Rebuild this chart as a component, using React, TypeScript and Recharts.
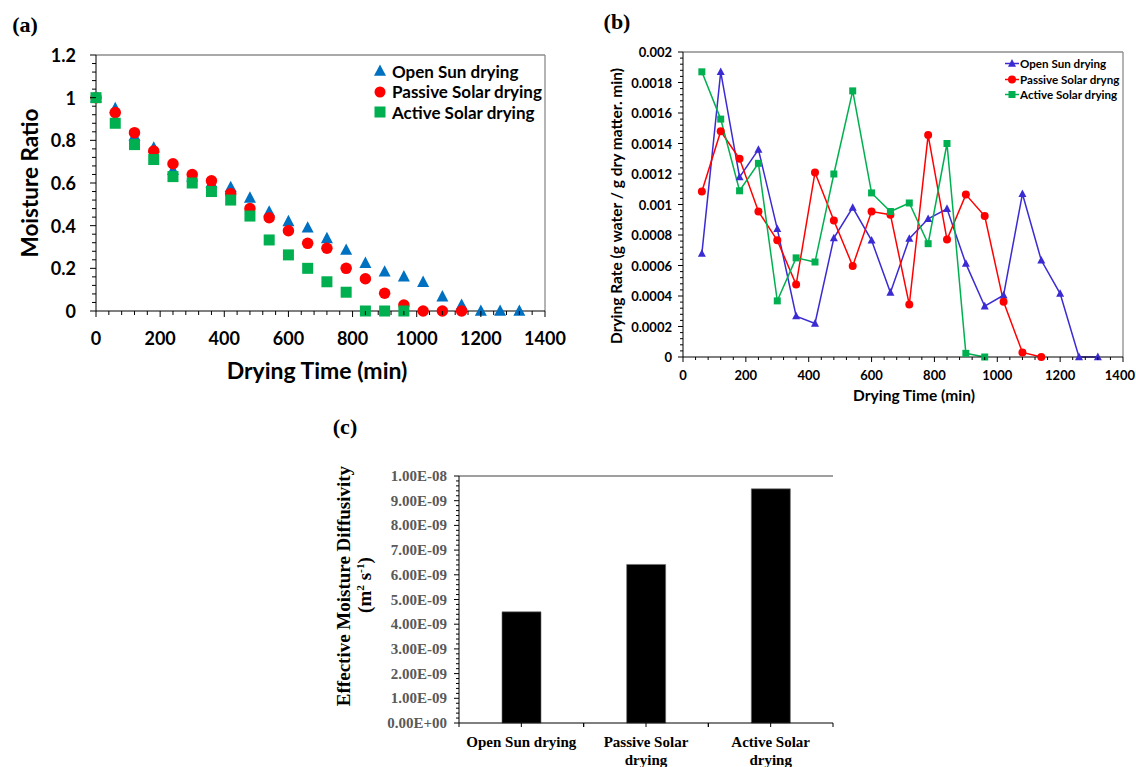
import React from 'react';
import { ScatterChart, Scatter, LineChart, Line, BarChart, Bar, XAxis, YAxis, ReferenceLine } from 'recharts';

const SANS = "Lato, 'Open Sans', sans-serif";
const SERIF = "'Liberation Serif', 'Times New Roman', serif";

const BLUE_A = '#0070C0';
const BLUE_B = '#3B2BD3';
const RED = '#FF0000';
const GREEN = '#00B050';
const FRAME = '#8c8c8c';

// (a) moisture ratio vs drying time
const timeA = [0, 60, 120, 180, 240, 300, 360, 420, 480, 540, 600, 660, 720, 780, 840, 900, 960, 1020, 1080, 1140, 1200, 1260, 1320];
const mrOpen = [1, 0.95, 0.82, 0.765, 0.66, 0.63, 0.6, 0.58, 0.53, 0.465, 0.42, 0.39, 0.34, 0.286, 0.224, 0.184, 0.161, 0.135, 0.067, 0.028, 0, 0, 0];
const mrPassive = [1, 0.93, 0.836, 0.75, 0.69, 0.64, 0.61, 0.55, 0.48, 0.437, 0.376, 0.317, 0.294, 0.2, 0.151, 0.083, 0.028, 0, 0, 0];
const mrActive = [1, 0.88, 0.78, 0.71, 0.63, 0.6, 0.56, 0.52, 0.445, 0.333, 0.263, 0.2, 0.137, 0.088, 0, 0, 0];

// (b) drying rate vs drying time
const timeB = [60, 120, 180, 240, 300, 360, 420, 480, 540, 600, 660, 720, 780, 840, 900, 960, 1020, 1080, 1140, 1200, 1260, 1320];
const drOpen = [0.000678, 0.00187, 0.00118, 0.00136, 0.00084, 0.000268, 0.00022, 0.00078, 0.00098, 0.000765, 0.000423, 0.000776, 0.000906, 0.000972, 0.000612, 0.000333, 0.000405, 0.00107, 0.000634, 0.000416, 0, 0];
const drPassive = [0.001085, 0.00148, 0.0013, 0.000954, 0.000765, 0.000475, 0.00121, 0.000895, 0.000597, 0.000954, 0.000933, 0.000344, 0.001455, 0.00077, 0.001065, 0.000924, 0.000362, 0.00003, 0];
const drActive = [0.00187, 0.00156, 0.00109, 0.00127, 0.000368, 0.00065, 0.000623, 0.0012, 0.001745, 0.001076, 0.000954, 0.00101, 0.000743, 0.0014, 0.000024, 0];

// (c) effective moisture diffusivity
const dryers = ['Open Sun drying', 'Passive Solar drying', 'Active Solar drying'];
const dryerLines = [['Open Sun drying'], ['Passive Solar', 'drying'], ['Active Solar', 'drying']];
const diffusivity = [4.5e-9, 6.42e-9, 9.48e-9];

// tick labels
const xTicksTime = [0, 200, 400, 600, 800, 1000, 1200, 1400];
const xLabelsTime = ['0', '200', '400', '600', '800', '1000', '1200', '1400'];
const yTicksA = [0, 0.2, 0.4, 0.6, 0.8, 1, 1.2];
const yLabelsA = ['0', '0.2', '0.4', '0.6', '0.8', '1', '1.2'];
const yTicksB = [0, 0.0002, 0.0004, 0.0006, 0.0008, 0.001, 0.0012, 0.0014, 0.0016, 0.0018, 0.002];
const yLabelsB = ['0', '0.0002', '0.0004', '0.0006', '0.0008', '0.001', '0.0012', '0.0014', '0.0016', '0.0018', '0.002'];
const yTicksC = [0, 1e-9, 2e-9, 3e-9, 4e-9, 5e-9, 6e-9, 7e-9, 8e-9, 9e-9, 1e-8];
const yLabelsC = ['0.00E+00', '1.00E-09', '2.00E-09', '3.00E-09', '4.00E-09', '5.00E-09', '6.00E-09', '7.00E-09', '8.00E-09', '9.00E-09', '1.00E-08'];

// minor tick positions (majors included)
const steps = (max: number, n: number) =>
  Array.from({ length: n + 1 }, (_, i) => Number(((max * i) / n).toPrecision(12)));

const pairs = (xs: number[], ys: number[]) => ys.map((y, i) => ({ x: xs[i], y }));
const openA = pairs(timeA, mrOpen);
const passiveA = pairs(timeA, mrPassive);
const activeA = pairs(timeA, mrActive);

const tableB = timeB.map((t, i) => ({
  t,
  open: drOpen[i] ?? null,
  passive: drPassive[i] ?? null,
  active: drActive[i] ?? null,
}));

const tableC = dryers.map((name, i) => ({ name, d: diffusivity[i] }));

type TickOpts = {
  majors: number[];
  labels: string[];
  major: number;
  minor: number;
  gap: number;
  size: number;
  font: string;
  color?: string;
  lastEnd?: number;
};

const findMajor = (majors: number[], v: number) => {
  const tol = majors[majors.length - 1] * 1e-6;
  return majors.findIndex((m) => Math.abs(m - v) < tol);
};

const xTick = (o: TickOpts) => (props: any) => {
  const { x, y, payload } = props;
  const i = findMajor(o.majors, payload.value);
  const isLast = i === o.majors.length - 1 && o.lastEnd != null;
  return (
    <g>
      <line x1={x} x2={x} y1={y} y2={y + (i >= 0 ? o.major : o.minor)} stroke="#000" />
      {i >= 0 && (
        <text
          x={isLast ? x + (o.lastEnd as number) : x}
          y={y + o.gap}
          textAnchor={isLast ? 'end' : 'middle'}
          dominantBaseline="central"
          fontFamily={o.font}
          fontWeight="bold"
          fontSize={o.size}
          fill={o.color || '#000'}
        >
          {o.labels[i]}
        </text>
      )}
    </g>
  );
};

const yTick = (o: TickOpts) => (props: any) => {
  const { x, y, payload } = props;
  const i = findMajor(o.majors, payload.value);
  return (
    <g>
      <line x1={x - (i >= 0 ? o.major : o.minor)} x2={x} y1={y} y2={y} stroke="#000" />
      {i >= 0 && (
        <text x={x - o.gap} y={y} textAnchor="end" dominantBaseline="central" fontFamily={o.font} fontWeight="bold" fontSize={o.size} fill={o.color || '#000'}>
          {o.labels[i]}
        </text>
      )}
    </g>
  );
};

const Tri = ({ cx, cy, s, fill }: { cx: number; cy: number; s: number; fill: string }) => (
  <polygon points={`${cx},${cy - s * 0.55} ${cx + s / 2},${cy + s * 0.4} ${cx - s / 2},${cy + s * 0.4}`} fill={fill} />
);
const Sq = ({ cx, cy, s, fill }: { cx: number; cy: number; s: number; fill: string }) => (
  <rect x={cx - s / 2} y={cy - s / 2} width={s} height={s} fill={fill} />
);
const Dot = ({ cx, cy, s, fill }: { cx: number; cy: number; s: number; fill: string }) => (
  <circle cx={cx} cy={cy} r={s / 2} fill={fill} />
);

const MARKERS: Record<string, any> = { tri: Tri, sq: Sq, dot: Dot };

const scatterShape = (kind: string, s: number, fill: string) => (p: any) => {
  const M = MARKERS[kind];
  return <M cx={p.cx} cy={p.cy} s={s} fill={fill} />;
};

const lineDot = (kind: string, s: number, fill: string) => (p: any) => {
  if (p.cy == null || p.value == null) return <g key={`e-${p.index}`} />;
  const M = MARKERS[kind];
  return (
    <g key={`d-${p.index}`}>
      <M cx={p.cx} cy={p.cy} s={s} fill={fill} />
    </g>
  );
};

const Text = ({ x, y, size, font, children, rotate, color }: any) => (
  <div
    style={{
      position: 'absolute',
      left: x,
      top: y,
      transform: `translate(-50%, -50%)${rotate ? ' rotate(-90deg)' : ''}`,
      whiteSpace: 'nowrap',
      fontFamily: font,
      fontWeight: 'bold',
      fontSize: size,
      color: color || '#000',
      lineHeight: 1.1,
      textAlign: 'center',
    }}
  >
    {children}
  </div>
);

const legendA = [
  { label: 'Open Sun drying', kind: 'tri', color: BLUE_A },
  { label: 'Passive Solar drying', kind: 'dot', color: RED },
  { label: 'Active Solar drying', kind: 'sq', color: GREEN },
];
const legendB = [
  { label: 'Open Sun drying', kind: 'tri', color: BLUE_B },
  { label: 'Passive Solar dryng', kind: 'dot', color: RED },
  { label: 'Active Solar drying', kind: 'sq', color: GREEN },
];

const C_BAND = (833 - 459) / dryers.length;

const cXTick = (props: any) => {
  const { x, y, index } = props;
  const lines = dryerLines[index] || [];
  return (
    <g>
      <line x1={x} x2={x} y1={y} y2={y + 4} stroke="#000" />
      <line x1={x - C_BAND / 2} x2={x - C_BAND / 2} y1={y} y2={y + 4} stroke="#000" />
      <line x1={x + C_BAND / 2} x2={x + C_BAND / 2} y1={y} y2={y + 4} stroke="#000" />
      {lines.map((l, k) => (
        <text key={k} x={x} y={y + 19 + k * 18} textAnchor="middle" dominantBaseline="central" fontFamily={SERIF} fontWeight="bold" fontSize={15} fill="#000">
          {l}
        </text>
      ))}
    </g>
  );
};

export default function App() {
  return (
    <div style={{ position: 'absolute', left: 0, top: 0, width: 1136, height: 767, background: '#fff', overflow: 'hidden' }}>
      {/* (a) */}
      <div style={{ position: 'absolute', left: 0, top: 0 }}>
        <ScatterChart width={585} height={400} margin={{ top: 55, right: 40, bottom: 0, left: 0 }}>
          <XAxis
            type="number"
            dataKey="x"
            domain={[0, 1400]}
            ticks={steps(1400, 35)}
            interval={0}
            tickSize={0}
            tickMargin={0}
            tickLine={false}
            height={89}
            axisLine={{ stroke: '#000' }}
            tick={xTick({ majors: xTicksTime, labels: xLabelsTime, major: 6, minor: 4, gap: 27, size: 18, font: SANS })}
          />
          <YAxis
            type="number"
            dataKey="y"
            domain={[0, 1.2]}
            ticks={steps(1.2, 30)}
            interval={0}
            tickSize={0}
            tickMargin={0}
            tickLine={false}
            width={96}
            axisLine={{ stroke: '#000' }}
            tick={yTick({ majors: yTicksA, labels: yLabelsA, major: 6, minor: 4, gap: 20, size: 18, font: SANS })}
          />
          <ReferenceLine y={1.2} stroke={FRAME} strokeWidth={1.3} />
          <ReferenceLine x={1400} stroke={FRAME} strokeWidth={1.3} />
          <Scatter data={openA} shape={scatterShape('tri', 12, BLUE_A)} isAnimationActive={false} />
          <Scatter data={passiveA} shape={scatterShape('dot', 11.5, RED)} isAnimationActive={false} />
          <Scatter data={activeA} shape={scatterShape('sq', 11, GREEN)} isAnimationActive={false} />
        </ScatterChart>
      </div>

      {/* (b) */}
      <div style={{ position: 'absolute', left: 600, top: 0 }}>
        <LineChart width={536} height={420} data={tableB} margin={{ top: 52, right: 13, bottom: 0, left: 0 }}>
          <XAxis
            type="number"
            dataKey="t"
            domain={[0, 1400]}
            ticks={steps(1400, 35)}
            interval={0}
            tickSize={0}
            tickMargin={0}
            tickLine={false}
            height={63}
            axisLine={{ stroke: '#000' }}
            tick={xTick({ majors: xTicksTime, labels: xLabelsTime, major: 5, minor: 3, gap: 18, size: 13, font: SANS, lastEnd: 12 })}
          />
          <YAxis
            type="number"
            domain={[0, 0.002]}
            ticks={steps(0.002, 50)}
            interval={0}
            tickSize={0}
            tickMargin={0}
            tickLine={false}
            width={83}
            axisLine={{ stroke: '#000' }}
            tick={yTick({ majors: yTicksB, labels: yLabelsB, major: 5, minor: 3, gap: 11, size: 13, font: SANS })}
          />
          <ReferenceLine y={0.002} stroke={FRAME} strokeWidth={1.3} />
          <ReferenceLine x={1400} stroke={FRAME} strokeWidth={1.3} />
          <Line type="linear" dataKey="open" stroke={BLUE_B} strokeWidth={1.5} dot={lineDot('tri', 8, BLUE_B)} isAnimationActive={false} />
          <Line type="linear" dataKey="passive" stroke={RED} strokeWidth={1.5} dot={lineDot('dot', 8, RED)} isAnimationActive={false} />
          <Line type="linear" dataKey="active" stroke={GREEN} strokeWidth={1.5} dot={lineDot('sq', 7, GREEN)} isAnimationActive={false} />
        </LineChart>
      </div>

      {/* (c) */}
      <div style={{ position: 'absolute', left: 380, top: 440 }}>
        <BarChart width={470} height={327} data={tableC} margin={{ top: 36, right: 17, bottom: 0, left: 0 }}>
          <XAxis dataKey="name" height={44} interval={0} tickSize={0} tickMargin={0} tickLine={false} axisLine={{ stroke: '#000' }} tick={cXTick} />
          <YAxis
            type="number"
            domain={[0, 1e-8]}
            ticks={steps(1e-8, 50)}
            interval={0}
            tickSize={0}
            tickMargin={0}
            tickLine={false}
            width={79}
            axisLine={{ stroke: '#000' }}
            tick={yTick({ majors: yTicksC, labels: yLabelsC, major: 5, minor: 3, gap: 12, size: 15, font: SERIF, color: '#595959' })}
          />
          <YAxis yAxisId="frame" orientation="right" width={0} tick={false} tickLine={false} axisLine={{ stroke: '#404040' }} />
          <ReferenceLine y={1e-8} stroke="#404040" />
          <Bar dataKey="d" fill="#000" stroke="#6b6b6b" strokeWidth={0.6} barSize={39} isAnimationActive={false} />
        </BarChart>
      </div>

      {/* titles and labels */}
      <Text x={25} y={25} size={22} font={SERIF}>(a)</Text>
      <Text x={617} y={22} size={22} font={SERIF}>(b)</Text>
      <Text x={345} y={427} size={22} font={SERIF}>(c)</Text>

      <Text x={317} y={371} size={23} font={SANS}>Drying Time (min)</Text>
      <Text x={30} y={183} size={22.5} font={SANS} rotate>Moisture Ratio</Text>

      <Text x={914} y={396} size={15.5} font={SANS}>Drying Time (min)</Text>
      <Text x={617} y={206} size={15.5} font={SANS} rotate>Drying Rate (g water / g dry matter. min)</Text>

      <Text x={344} y={586} size={19} font={SERIF} rotate>Effective Moisture Diffusivity</Text>
      <Text x={365} y={585} size={19} font={SERIF} rotate>
        (m<sup style={{ fontSize: '0.6em' }}>2</sup> s<sup style={{ fontSize: '0.6em' }}>-1</sup>)
      </Text>

      {/* legend (a) */}
      {legendA.map((l, i) => (
        <div key={l.label} style={{ position: 'absolute', left: 372, top: 61 + i * 20.5, height: 20, display: 'flex', alignItems: 'center', fontFamily: SANS, fontWeight: 'bold', fontSize: 17 }}>
          <svg width={18} height={20}>
            {React.createElement(MARKERS[l.kind], { cx: 8, cy: 10, s: l.kind === 'tri' ? 12 : 11, fill: l.color })}
          </svg>
          <span style={{ marginLeft: 2 }}>{l.label}</span>
        </div>
      ))}

      {/* legend (b) */}
      {legendB.map((l, i) => (
        <div key={l.label} style={{ position: 'absolute', left: 1004, top: 56 + i * 15.5, height: 15, display: 'flex', alignItems: 'center', fontFamily: SANS, fontWeight: 'bold', fontSize: 11.6 }}>
          <svg width={16} height={15}>
            <line x1={1} x2={15} y1={7.5} y2={7.5} stroke={l.color} strokeWidth={1.5} />
            {React.createElement(MARKERS[l.kind], { cx: 8, cy: 7.5, s: l.kind === 'sq' ? 7 : 8, fill: l.color })}
          </svg>
          <span>{l.label}</span>
        </div>
      ))}
    </div>
  );
}
